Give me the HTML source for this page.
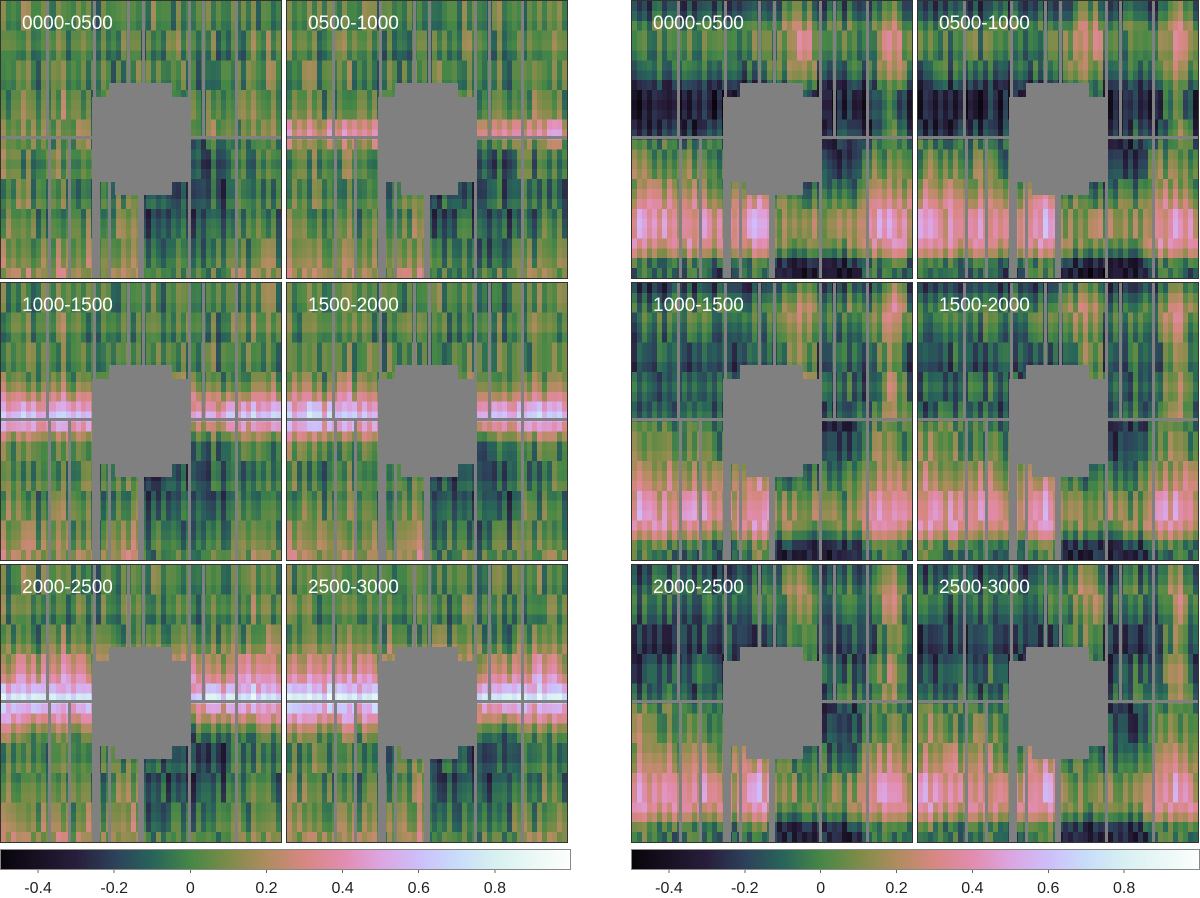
<!DOCTYPE html>
<html><head><meta charset="utf-8"><style>
html,body{margin:0;padding:0;background:#fff;}
svg{display:block;font-family:"Liberation Sans",sans-serif;}
</style></head><body>
<svg id="fig" width="1200" height="898" viewBox="0 0 1200 898" xmlns="http://www.w3.org/2000/svg" shape-rendering="crispEdges">
<defs>
<linearGradient id="cbg" x1="0" x2="1" y1="0" y2="0">
<stop offset="0" stop-color="rgb(8,4,10)"/>
<stop offset="0.133" stop-color="rgb(40,30,60)"/>
<stop offset="0.2" stop-color="rgb(45,65,90)"/>
<stop offset="0.267" stop-color="rgb(40,100,90)"/>
<stop offset="0.333" stop-color="rgb(70,135,70)"/>
<stop offset="0.4" stop-color="rgb(125,140,72)"/>
<stop offset="0.467" stop-color="rgb(175,140,95)"/>
<stop offset="0.533" stop-color="rgb(215,135,130)"/>
<stop offset="0.6" stop-color="rgb(225,140,175)"/>
<stop offset="0.667" stop-color="rgb(220,165,225)"/>
<stop offset="0.733" stop-color="rgb(205,190,250)"/>
<stop offset="0.8" stop-color="rgb(200,220,250)"/>
<stop offset="0.867" stop-color="rgb(215,240,240)"/>
<stop offset="1" stop-color="rgb(252,255,252)"/>
</linearGradient>
</defs>
</svg>
<script>
const labels = ["0000-0500","0500-1000","1000-1500","1500-2000","2000-2500","2500-3000"];
const tickValues = [-0.4,-0.2,0,0.2,0.4,0.6,0.8];
const tickLabels = ["-0.4","-0.2","0","0.2","0.4","0.6","0.8"];
const rowL0 = [0.0,0.0,-0.03,0.0,0.02,-0.05,0.0,0.0,-0.03,0.0,0.02,0.04,0.04,0.06,0.0,0.0,-0.05,0.0,-0.05,-0.06,0.0,-0.05,0.0,0.02,0.04,0.06,0.1,0.13];
const rowL1 = [0.0,0.0,-0.03,0.0,0.02,-0.05,0.0,0.0,-0.03,0.0,0.02,0.06,0.25,0.33,0.14,0.0,-0.05,0.0,-0.05,-0.06,0.0,-0.05,0.0,0.02,0.04,0.06,0.1,0.13];
const rowL2 = [0.0,0.0,-0.03,0.0,0.02,-0.05,0.0,0.0,-0.03,0.02,0.1,0.25,0.4,0.56,0.4,0.15,0.0,0.0,-0.05,-0.06,0.0,-0.05,0.0,0.02,0.04,0.06,0.1,0.13];
const rowL3 = [0.0,0.0,-0.03,0.0,0.02,-0.05,0.0,0.0,0.0,0.05,0.12,0.25,0.45,0.58,0.45,0.2,0.02,0.0,-0.05,-0.06,0.0,-0.05,0.0,0.02,0.04,0.06,0.1,0.13];
const rowL4 = [0.0,0.0,-0.03,0.0,0.02,-0.05,0.0,0.02,0.1,0.2,0.25,0.35,0.5,0.72,0.5,0.33,0.15,0.02,-0.05,-0.06,0.0,-0.05,0.0,0.02,0.04,0.06,0.1,0.13];
const rowL5 = [0.0,0.0,-0.03,0.0,0.02,-0.05,0.0,0.02,0.1,0.2,0.25,0.37,0.53,0.75,0.53,0.35,0.15,0.02,-0.05,-0.06,0.0,-0.05,0.0,0.02,0.04,0.06,0.1,0.13];
const rowR0 = [-0.18,-0.12,0.0,0.03,0.03,-0.02,-0.05,-0.1,-0.22,-0.3,-0.33,-0.3,-0.28,-0.22,-0.12,-0.08,-0.04,0.0,0.05,0.12,0.2,0.28,0.32,0.3,0.25,0.12,-0.12,-0.18];
const rowR1 = [-0.18,-0.12,0.0,0.03,0.03,-0.02,-0.05,-0.1,-0.2,-0.28,-0.3,-0.28,-0.25,-0.2,-0.12,-0.08,-0.04,0.0,0.05,0.12,0.2,0.27,0.3,0.3,0.25,0.12,-0.12,-0.18];
const rowR2 = [-0.18,-0.08,0.0,0.0,-0.05,-0.1,-0.12,-0.12,-0.17,-0.12,-0.08,-0.12,-0.12,-0.08,-0.08,-0.04,-0.04,0.0,0.05,0.1,0.15,0.22,0.27,0.3,0.25,0.12,-0.08,-0.14];
const rowR3 = [-0.18,-0.08,0.0,0.0,-0.05,-0.1,-0.12,-0.12,-0.17,-0.12,-0.08,-0.12,-0.12,-0.08,-0.08,-0.04,-0.04,0.0,0.05,0.1,0.15,0.22,0.27,0.28,0.25,0.12,-0.08,-0.14];
const rowR4 = [-0.15,-0.12,-0.05,-0.05,-0.08,-0.13,-0.18,-0.18,-0.22,-0.18,-0.12,-0.12,-0.12,-0.08,-0.08,-0.04,-0.04,0.0,0.05,0.1,0.15,0.22,0.27,0.28,0.25,0.12,-0.08,-0.14];
const rowR5 = [-0.15,-0.12,-0.05,-0.05,-0.08,-0.13,-0.18,-0.18,-0.22,-0.18,-0.12,-0.12,-0.12,-0.08,-0.08,-0.04,-0.04,0.0,0.05,0.1,0.15,0.22,0.27,0.28,0.25,0.12,-0.08,-0.14];
const colLeftUpper = [0.05,0.0,0.0,0.05,0.1,0.05,0.0,-0.05,0.05,0.0,0.05,0.05,0.1,0.0,0.0,0.05,0.05,0.0,-0.05,-0.05,0.05,0.0,-0.05,0.0,0.0,0.05,0.0,0.05,-0.05,0.0,0.05,0.0,-0.05,0.0,0.0,0.05,0.05,0.0,0.0,-0.05,-0.05,0.0,0.05,-0.05,-0.05,0.0,0.05,0.0,0.0,0.05,0.1,0.0,0.05,0.1,0.05,0.0];
const colLeftLower = [0.08,0.08,0.03,0.08,0.03,0.08,0.03,-0.02,0.03,-0.02,0.03,0.08,0.08,0.03,-0.02,0.03,0.03,0.08,-0.02,-0.07,-0.02,-0.02,0.03,0.08,0.03,0.08,0.12,0.08,-0.12,-0.17,-0.17,-0.12,-0.12,-0.17,-0.12,-0.07,-0.12,-0.17,-0.17,-0.12,-0.17,-0.12,-0.07,-0.12,-0.17,-0.07,-0.02,0.03,-0.02,-0.07,-0.02,0.03,-0.02,0.03,-0.02,-0.07];
const colRightUpper = [-0.05,-0.05,0.0,-0.05,0.0,0.0,-0.05,0.0,0.0,-0.05,0.0,0.0,-0.05,0.0,0.05,0.0,-0.05,0.0,-0.05,0.0,-0.05,-0.05,-0.05,0.0,0.0,0.0,0.0,0.05,0.0,0.05,0.1,0.15,0.2,0.25,0.2,0.2,0.15,-0.05,-0.05,0.0,-0.05,0.0,0.0,0.05,0.0,0.0,-0.05,0.0,0.05,0.15,0.2,0.3,0.3,0.2,0.1,0.0];
const colRightLower = [0.1,0.15,0.15,0.1,0.1,0.05,0.1,0.1,0.05,0.0,0.05,0.1,0.1,0.05,0.1,0.05,0.0,0.0,0.0,0.0,0.0,0.05,0.1,0.1,0.15,0.2,0.15,0.1,-0.1,-0.15,-0.15,-0.15,-0.15,-0.2,-0.2,-0.15,-0.15,-0.2,-0.15,-0.2,-0.15,-0.15,-0.2,-0.15,-0.15,-0.1,0.0,0.05,0.1,0.1,0.1,0.15,0.1,0.1,0.05,0.0];
const texture = [0.08,-0.06,0.02,-0.1,0.12,0.0,-0.04,0.06,-0.12,0.03,0.1,-0.08,0.05,-0.02,0.09,-0.11,0.04,0.0,-0.07,0.11,-0.03,0.06,-0.09,0.02,0.13,-0.05,0.01,-0.1,0.07,-0.01,0.05,-0.13,0.08,0.03,-0.06,0.1,-0.04,0.0,0.09,-0.08,0.02,-0.11,0.06,0.04,-0.02,0.12,-0.07,0.01,-0.09,0.05,0.07,-0.03,0.1,-0.12,0.0,0.03,-0.05,0.08,-0.1,0.04,-0.02];

const leftRows = [rowL0,rowL1,rowL2,rowL3,rowL4,rowL5];
const rightRows = [rowR0,rowR1,rowR2,rowR3,rowR4,rowR5];

const stops = [[-0.5,[8,4,10]],[-0.3,[40,30,60]],[-0.2,[45,65,90]],[-0.1,[40,100,90]],[0,[70,135,70]],[0.1,[125,140,72]],[0.2,[175,140,95]],[0.3,[215,135,130]],[0.4,[225,140,175]],[0.5,[220,165,225]],[0.6,[205,190,250]],[0.7,[200,220,250]],[0.8,[215,240,240]],[1.0,[252,255,252]]];
function cmap(v){
  if(v<=stops[0][0]) return 'rgb('+stops[0][1].join(',')+')';
  for(let i=1;i<stops.length;i++){
    if(v<=stops[i][0]){
      const a=stops[i-1],b=stops[i],t=(v-a[0])/(b[0]-a[0]);
      return 'rgb('+[0,1,2].map(k=>Math.round(a[1][k]+(b[1][k]-a[1][k])*t)).join(',')+')';
    }
  }
  return 'rgb('+stops[stops.length-1][1].join(',')+')';
}
const NS='http://www.w3.org/2000/svg';
const svg=document.getElementById('fig');
function mk(tag,attrs,parent){const e=document.createElementNS(NS,tag);for(const k in attrs)e.setAttribute(k,attrs[k]);(parent||svg).appendChild(e);return e;}

const PW=282,PH=279,NC=56,NR=28;
const cw=280/NC, rh=277/NR;
const panelX=[[0,286],[631,917]];
const panelY=[0,282,564];

function drawPanel(px,py,rows,colU,colL,label,pi,side){
  const g=mk('g',{});
  
  
  for(let r=0;r<NR;r++){
    const col=r<14?colU:colL;
    for(let c=0;c<NC;c++){
      const t=texture[(c*13+Math.floor(r/3)*17+pi*7)%texture.length];
      const v=rows[r]+col[c]+t;
      const cell=mk('rect',{x:(px+1+c*cw).toFixed(2),y:(py+1+r*rh).toFixed(2),width:(cw+0.3).toFixed(2),height:(rh+0.4).toFixed(2),fill:cmap(v)},g);
      
      
    }
  }
  const gray='#808080';
  [46,93,127,142,188,202,235].forEach(x=>mk('rect',{x:px+x,y:py+1,width:3,height:136,fill:gray},g));
  [48,68,97,108,188,235].forEach(x=>mk('rect',{x:px+x,y:py+139,width:3,height:139,fill:gray},g));
  mk('rect',{x:px+1,y:py+136,width:280,height:3,fill:gray},g);
  mk('rect',{x:px+138,y:py+182,width:6,height:96,fill:gray},g);
  mk('rect',{x:px+92,y:py+182,width:6,height:96,fill:gray},g);
  const mask=mk('g',{},g);
  
  
  mk('rect',{x:px+92,y:py+97,width:98,height:85,fill:gray},mask);
  mk('rect',{x:px+109,y:py+83,width:63,height:14,fill:gray},mask);
  mk('rect',{x:px+115,y:py+182,width:57,height:13,fill:gray},mask);
  mk('rect',{x:px+0.5,y:py+0.5,width:PW-1,height:PH-1,fill:'none',stroke:'#333','stroke-width':1},g);
  const tx=mk('text',{x:px+22,y:py+29,fill:'#fff','font-size':19,'shape-rendering':'auto'},g);
  tx.textContent=label;
  
  
}
for(let s=0;s<2;s++){
  for(let i=0;i<6;i++){
    const row=Math.floor(i/2), colI=i%2;
    const rows=s===0?leftRows[i]:rightRows[i];
    drawPanel(panelX[s][colI],panelY[row],rows,s===0?colLeftUpper:colRightUpper,s===0?colLeftLower:colRightLower,labels[i],i,s===0?'left':'right');
  }
}
function drawColorbar(x0,w,side){
  const g=mk('g',{});
  
  
  mk('rect',{x:x0+0.5,y:849.5,width:w-1,height:20,fill:'url(#cbg)',stroke:'#888','stroke-width':1},g);
  const xs=v=>x0+(v+0.5)/1.5*w;
  tickValues.forEach((v,i)=>{
    mk('line',{x1:xs(v),x2:xs(v),y1:870,y2:873,stroke:'#666','stroke-width':1},g);
    const t=mk('text',{x:xs(v),y:893,'text-anchor':'middle','font-size':16,fill:'#222','shape-rendering':'auto'},g);
    t.textContent=tickLabels[i];
    
    
  });
}
drawColorbar(0,571,'left');
drawColorbar(631,569,'right');
</script>
</body></html>
